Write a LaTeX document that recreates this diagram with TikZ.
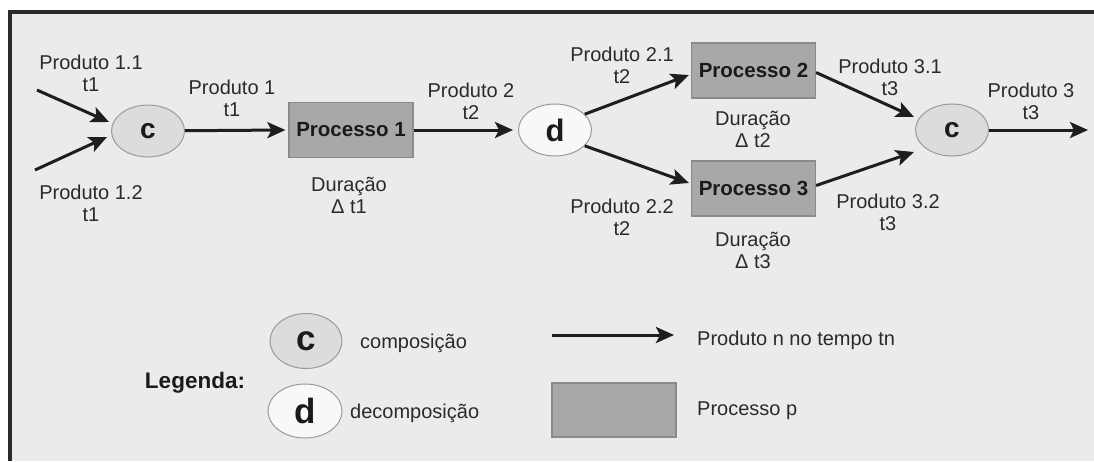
\documentclass[tikz,border=0pt]{standalone}
\usepackage{fontspec}
\setmainfont{Liberation Sans}
\usetikzlibrary{shapes.geometric,arrows.meta,calc}
\definecolor{bg}{HTML}{EBEBEB}
\definecolor{framecol}{HTML}{2A2A2A}
\definecolor{txt}{HTML}{2A2A2A}
\definecolor{boldtxt}{HTML}{1A1A1A}
\definecolor{procfill}{HTML}{A8A8A8}
\definecolor{procdraw}{HTML}{8A8A8A}
\definecolor{compfill}{HTML}{DCDCDC}
\definecolor{decfill}{HTML}{F8F8F8}
\definecolor{elldraw}{HTML}{9A9A9A}
\definecolor{arrowcol}{HTML}{1E1E1E}
\begin{document}
\begin{tikzpicture}[x=1pt,y=-1pt,
  lbl/.style={font=\fontsize{20}{22}\selectfont, text=txt, align=center, inner sep=0pt},
  lgd/.style={font=\fontsize{20}{22}\selectfont, text=txt, anchor=west, inner sep=0pt},
  proc/.style={rectangle, fill=procfill, draw=procdraw, line width=1.2pt, minimum width=124pt, minimum height=55pt, inner sep=0pt, font=\bfseries\fontsize{20.5}{24}\selectfont, text=boldtxt},
  comp/.style={ellipse, fill=compfill, draw=elldraw, line width=1pt, minimum width=73pt, minimum height=52pt, inner sep=0pt, font=\bfseries\fontsize{28}{30}\selectfont, text=boldtxt},
  decomp/.style={comp, fill=decfill, font=\bfseries\fontsize{31}{33}\selectfont},
  flow/.style={line width=3pt, draw=arrowcol, -{Stealth[length=18pt,width=16pt,inset=4pt]}}]
\useasboundingbox (0,0) rectangle (1094,461);
\fill[white] (0,0) rectangle (1094,461);
\fill[bg] (8,10) rectangle (1094,461);
\draw[line width=4pt, color=framecol] (10,461) -- (10,11.7) -- (1094,11.7);

% main nodes
\node[comp] (c1) at (148,131) {c};
\node[proc] (p1) at (351,130) {Processo 1};
\node[decomp] (d) at (555,130) {d};
\node[proc] (p2) at (753.5,70.5) {Processo 2};
\node[proc] (p3) at (753.5,188.5) {Processo 3};
\node[comp] (c2) at (952,130) {c};

% free ends
\coordinate (in11) at (37,90);
\coordinate (in12) at (35,170);
\coordinate (e11) at ($(c1.west)+(-2,-9)$);
\coordinate (e12) at ($(c1.west)+(-4,6)$);
\coordinate (e31) at ($(c2.west)+(-1,-13)$);
\coordinate (e32) at ($(c2.west)+(-1,22)$);
\coordinate (out) at (1088,130);

% connectors
\draw[flow] (in11) -- (e11);
\draw[flow] (in12) -- (e12);
\draw[flow] (c1) -- ($(p1.west)+(-3,0)$);
\draw[flow] (p1) -- ($(d.west)+(-5,0)$);
\draw[flow] (d.28) -- ($(p2.west)+(-2,4.5)$);
\draw[flow] (d.-28) -- ($(p3.west)+(-2,-5.5)$);
\draw[flow] ($(p2.east)+(0,2)$) -- (e31);
\draw[flow] ($(p3.east)+(0,-3)$) -- (e32);
\draw[flow] (c2) -- (out);

% labels
\node[lbl] (l11) at (91,73) {Produto 1.1\\t1};
\node[lbl] (l12) at (91,203) {Produto 1.2\\t1};
\node[lbl] (l1) at (232,98) {Produto 1\\t1};
\node[lbl] (dur1) at (349,195) {Duração\\Δ t1};
\node[lbl] (l2) at (471,101) {Produto 2\\t2};
\node[lbl] (l21) at (622,65) {Produto 2.1\\t2};
\node[lbl] (l22) at (622,217) {Produto 2.2\\t2};
\node[lbl] (dur2) at (753,129) {Duração\\Δ t2};
\node[lbl] (dur3) at (753,250) {Duração\\Δ t3};
\node[lbl] (l31) at (890,77) {Produto 3.1\\t3};
\node[lbl] (l32) at (888,212) {Produto 3.2\\t3};
\node[lbl] (l3) at (1031,101) {Produto 3\\t3};

% legend
\node[lbl, font=\bfseries\fontsize{22.5}{24}\selectfont, text=boldtxt] (leg) at (195,383) {Legenda:};
\node[comp, minimum width=72pt, minimum height=55pt, font=\bfseries\fontsize{35}{36}\selectfont] (lc) at (306,341) {c};
\node[decomp, minimum width=74pt, minimum height=54pt, font=\bfseries\fontsize{35}{36}\selectfont] (ld) at (305,411) {d};
\node[lgd] (tc) at (360,343) {composição};
\node[lgd] (td) at (350,413) {decomposição};
\coordinate (la1) at (552,335);
\coordinate (la2) at (674,335);
\draw[flow] (la1) -- (la2);
\node[proc, minimum width=124pt, minimum height=54pt] (lp) at (614,410) {};
\node[lgd] (tf) at (697,340) {Produto n no tempo tn};
\node[lgd] (tp) at (697,411) {Processo p};
\end{tikzpicture}
\end{document}
